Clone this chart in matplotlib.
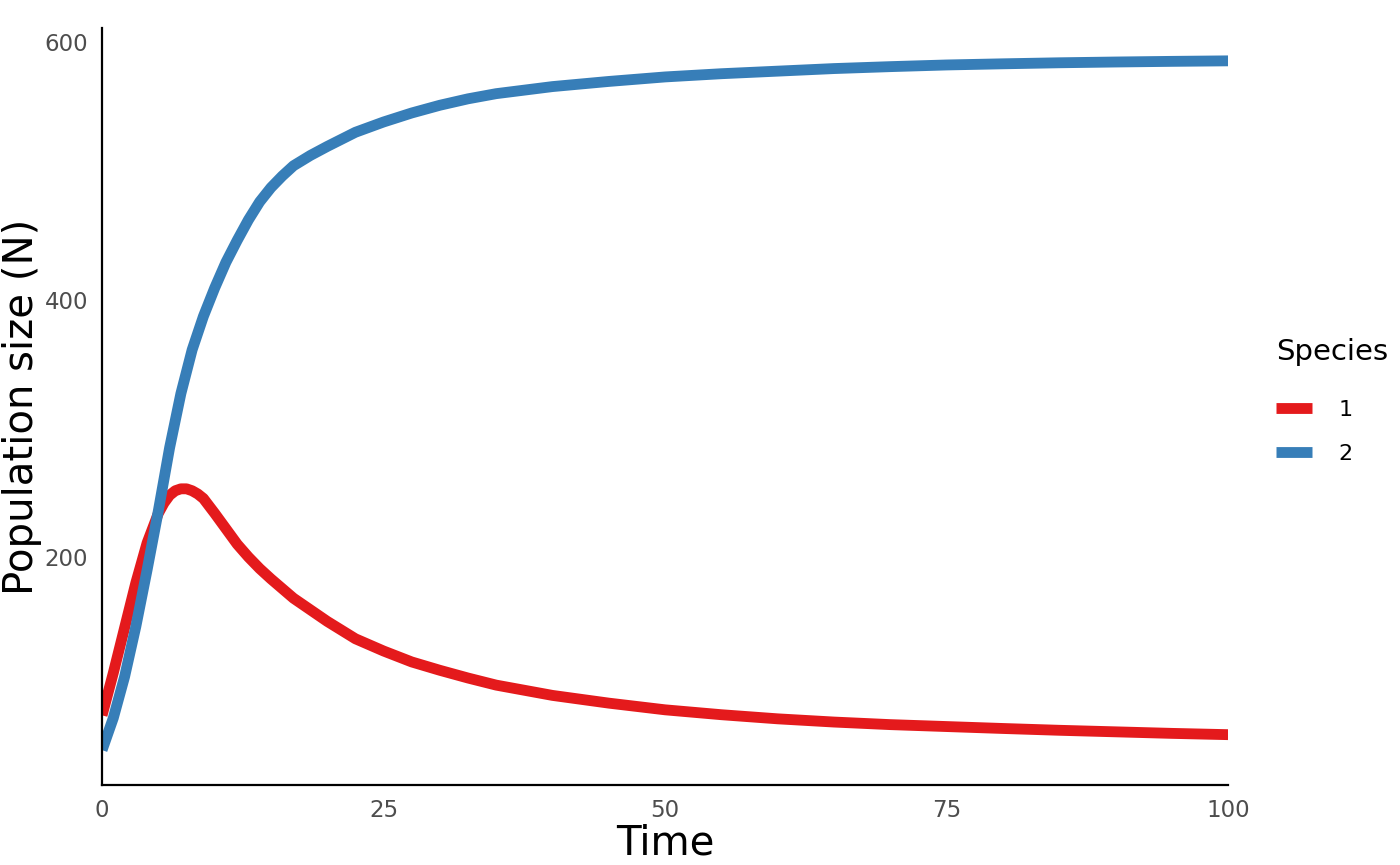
import matplotlib
matplotlib.use("Agg")
import matplotlib.pyplot as plt

plt.rcParams.update({'font.family': 'DejaVu Sans'})

# values
time_sp1 = [0, 1, 2, 3, 4, 5, 5.5, 6, 6.5, 7, 7.5, 8, 8.5, 9, 10, 11, 12, 13,
            14, 15, 16, 17, 18.5, 20, 22.5, 25, 27.5, 30, 32.5, 35, 40, 45, 50,
            55, 60, 65, 70, 75, 80, 85, 90, 95, 100]
species1 = [77, 110, 145, 180, 211, 234, 242, 248, 251.5, 253, 253, 251.5,
            249, 245.5, 234, 222, 210, 200, 191, 183, 175.5, 168, 159, 150,
            136.5, 127, 118.5, 112, 106, 100.5, 92.5, 86.5, 81.3, 77.5, 74.3,
            71.8, 69.8, 68.3, 66.8, 65.4, 64.2, 63, 62]

time_sp2 = [0, 1, 2, 3, 4, 5, 6, 7, 8, 9, 10, 11, 12, 13, 14, 15, 16, 17,
            18.5, 20, 22.5, 25, 27.5, 30, 32.5, 35, 40, 45, 50, 55, 60, 65, 70,
            75, 80, 85, 90, 95, 100]
species2 = [50, 75, 107, 146, 190, 236, 285, 327, 361, 387, 409, 429, 446,
            462, 476, 487, 496, 504, 512, 519, 530, 538, 545, 551, 556, 560,
            565.5, 569.5, 573, 575.5, 577.5, 579.5, 581, 582.3, 583.2, 584,
            584.6, 585.1, 585.5]

species_labels = ['1', '2']
colors = ['#E41A1C', '#377EB8']

fig = plt.figure(figsize=(14, 8.65), dpi=100)
ax = fig.add_axes([0.0729, 0.0925, 0.8043, 0.8751])

ax.plot(time_sp1, species1, color=colors[0], lw=7.8, solid_capstyle='butt',
        solid_joinstyle='round', label=species_labels[0])
ax.plot(time_sp2, species2, color=colors[1], lw=7.8, solid_capstyle='butt',
        solid_joinstyle='round', label=species_labels[1])

ax.set_xlim(0, 100)
ax.set_ylim(22.9, 611)
ax.set_xticks([0, 25, 50, 75, 100])
ax.set_yticks([200, 400, 600])
ax.tick_params(length=0, labelsize=16.5, labelcolor='#4D4D4D', pad=10)

for s in ['top', 'right']:
    ax.spines[s].set_visible(False)
for s in ['left', 'bottom']:
    ax.spines[s].set_linewidth(1.6)
    ax.spines[s].set_color('black')

ax.set_xlabel('Time', fontsize=29, labelpad=1)
ax.set_ylabel('Population size (N)', fontsize=29, labelpad=2)

leg = ax.legend(title='Species', loc='center left', bbox_to_anchor=(1.025, 0.507),
                frameon=False, fontsize=16, title_fontsize=21,
                handlelength=1.6, handletextpad=1.2, labelspacing=1.1)
leg._legend_box.align = 'left'
leg._legend_box.sep = 24

fig.savefig('out.png', dpi=100)
